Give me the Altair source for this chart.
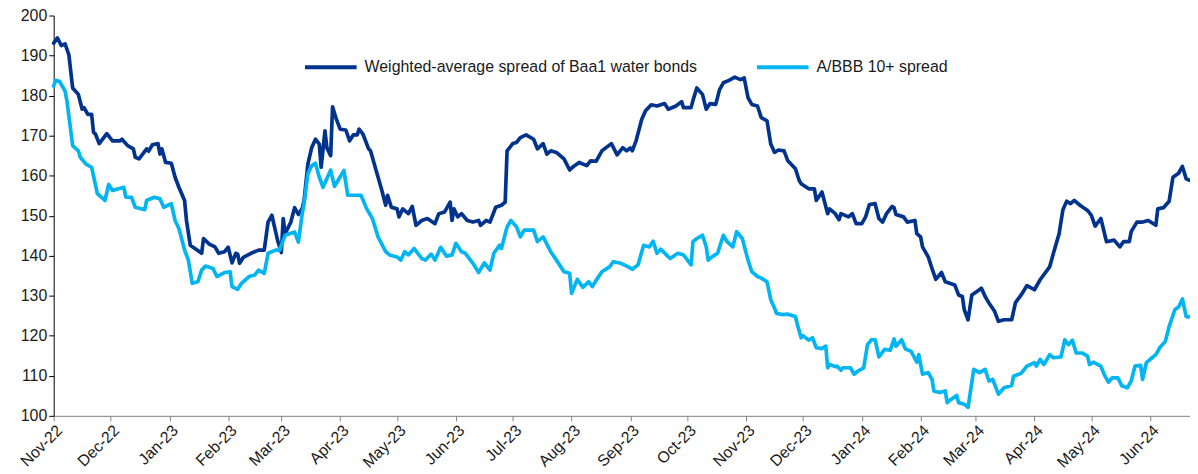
import altair as alt
import pandas as pd

SERIES_A = "Weighted-average spread of Baa1 water bonds"
SERIES_B = "A/BBB 10+ spread"

dates_a = [
    "2022-11-01", "2022-11-03", "2022-11-05", "2022-11-07", "2022-11-09", "2022-11-11", "2022-11-14",
    "2022-11-16", "2022-11-17", "2022-11-19", "2022-11-21", "2022-11-22", "2022-11-23", "2022-11-25",
    "2022-11-29", "2022-12-02", "2022-12-06", "2022-12-07", "2022-12-10", "2022-12-13", "2022-12-14",
    "2022-12-16", "2022-12-20", "2022-12-21", "2022-12-23", "2022-12-26", "2022-12-27", "2022-12-28",
    "2022-12-30", "2023-01-02", "2023-01-04", "2023-01-06", "2023-01-09", "2023-01-10", "2023-01-12",
    "2023-01-15", "2023-01-18", "2023-01-19", "2023-01-22", "2023-01-25", "2023-01-27", "2023-01-30",
    "2023-02-01", "2023-02-03", "2023-02-05", "2023-02-06", "2023-02-07", "2023-02-09", "2023-02-13",
    "2023-02-17", "2023-02-20", "2023-02-22", "2023-02-24", "2023-02-27", "2023-03-01", "2023-03-02",
    "2023-03-03", "2023-03-06", "2023-03-08", "2023-03-10", "2023-03-12", "2023-03-13", "2023-03-15",
    "2023-03-17", "2023-03-19", "2023-03-21", "2023-03-22", "2023-03-24", "2023-03-25", "2023-03-27",
    "2023-03-28", "2023-03-30", "2023-04-01", "2023-04-04", "2023-04-06", "2023-04-08", "2023-04-10",
    "2023-04-11", "2023-04-13", "2023-04-16", "2023-04-17", "2023-04-21", "2023-04-23", "2023-04-25",
    "2023-04-26", "2023-04-28", "2023-05-01", "2023-05-02", "2023-05-04", "2023-05-07", "2023-05-09",
    "2023-05-11", "2023-05-14", "2023-05-17", "2023-05-21", "2023-05-23", "2023-05-26", "2023-05-29",
    "2023-05-30", "2023-05-31", "2023-06-02", "2023-06-04", "2023-06-07", "2023-06-10", "2023-06-13",
    "2023-06-14", "2023-06-17", "2023-06-19", "2023-06-22", "2023-06-25", "2023-06-27", "2023-06-28",
    "2023-07-01", "2023-07-03", "2023-07-05", "2023-07-08", "2023-07-12", "2023-07-14", "2023-07-17",
    "2023-07-19", "2023-07-21", "2023-07-24", "2023-07-28", "2023-07-31", "2023-08-02", "2023-08-05",
    "2023-08-09", "2023-08-11", "2023-08-14", "2023-08-17", "2023-08-22", "2023-08-25", "2023-08-28",
    "2023-08-30", "2023-09-01", "2023-09-02", "2023-09-04", "2023-09-07", "2023-09-09", "2023-09-12",
    "2023-09-15", "2023-09-19", "2023-09-21", "2023-09-25", "2023-09-28", "2023-09-29", "2023-10-03",
    "2023-10-04", "2023-10-06", "2023-10-09", "2023-10-11", "2023-10-13", "2023-10-16", "2023-10-18",
    "2023-10-20", "2023-10-23", "2023-10-26", "2023-10-29", "2023-10-31", "2023-11-02", "2023-11-04",
    "2023-11-07", "2023-11-09", "2023-11-12", "2023-11-14", "2023-11-16", "2023-11-18", "2023-11-21",
    "2023-11-23", "2023-11-27", "2023-11-29", "2023-11-30", "2023-12-04", "2023-12-07", "2023-12-08",
    "2023-12-11", "2023-12-14", "2023-12-15", "2023-12-18", "2023-12-20", "2023-12-21", "2023-12-25",
    "2023-12-27", "2023-12-29", "2024-01-01", "2024-01-03", "2024-01-05", "2024-01-08", "2024-01-10",
    "2024-01-12", "2024-01-14", "2024-01-17", "2024-01-18", "2024-01-19", "2024-01-23", "2024-01-25",
    "2024-01-29", "2024-01-30", "2024-02-01", "2024-02-02", "2024-02-05", "2024-02-07", "2024-02-09",
    "2024-02-12", "2024-02-14", "2024-02-19", "2024-02-21", "2024-02-23", "2024-02-24", "2024-02-26",
    "2024-02-28", "2024-03-03", "2024-03-04", "2024-03-06", "2024-03-08", "2024-03-11", "2024-03-13",
    "2024-03-16", "2024-03-20", "2024-03-22", "2024-03-25", "2024-03-28", "2024-04-01", "2024-04-04",
    "2024-04-09", "2024-04-11", "2024-04-14", "2024-04-16", "2024-04-18", "2024-04-20", "2024-04-22",
    "2024-04-25", "2024-04-29", "2024-05-01", "2024-05-03", "2024-05-06", "2024-05-09", "2024-05-13",
    "2024-05-16", "2024-05-18", "2024-05-21", "2024-05-22", "2024-05-25", "2024-05-28", "2024-05-31",
    "2024-06-04", "2024-06-05", "2024-06-08", "2024-06-11", "2024-06-13", "2024-06-16", "2024-06-18",
    "2024-06-20", "2024-06-22",
]
values_a = [
    193.1, 194.4, 192.5, 192.9, 190.2, 181.9, 180.3,
    176.6, 177.0, 175.3, 175.3, 170.8, 170.4, 168.0,
    170.5, 168.7, 168.7, 169.1, 167.5, 166.7, 164.6,
    164.2, 166.7, 166.1, 167.7, 168.0, 165.4, 166.7,
    163.3, 163.1, 159.6, 157.1, 153.8, 148.8, 142.6,
    141.6, 140.6, 144.3, 142.9, 142.2, 140.6, 141.0,
    142.1, 138.2, 140.6, 140.4, 138.1, 139.6, 140.6,
    141.4, 141.4, 148.4, 150.1, 143.9, 140.8, 149.3,
    145.5, 148.4, 152.0, 150.3, 151.8, 153.8, 162.9,
    167.0, 169.1, 167.9, 162.1, 171.2, 167.0, 165.0,
    177.2, 174.1, 171.6, 171.4, 168.7, 170.2, 170.2,
    171.6, 170.4, 166.7, 166.2, 159.6, 156.3, 152.6,
    155.1, 152.1, 151.7, 149.7, 151.7, 150.5, 152.3,
    147.6, 148.8, 149.3, 148.0, 150.5, 150.9, 153.4,
    148.8, 151.7, 149.7, 150.5, 148.8, 148.4, 148.8,
    147.6, 148.8, 148.4, 152.1, 152.6, 153.4, 166.2,
    168.0, 168.3, 169.5, 170.2, 169.1, 166.7, 168.0,
    165.4, 166.2, 165.8, 164.2, 161.4, 162.3, 163.3,
    162.5, 163.7, 163.6, 166.2, 168.0, 165.2, 167.0,
    166.2, 166.9, 166.2, 168.7, 174.1, 176.2, 177.7,
    177.4, 178.0, 176.6, 177.4, 178.5, 177.0, 177.0,
    178.8, 181.9, 180.3, 176.6, 178.0, 177.8, 181.5,
    183.2, 183.8, 184.6, 184.0, 184.4, 179.5, 177.8,
    177.4, 174.5, 173.7, 167.9, 165.8, 166.4, 166.2,
    163.7, 161.7, 158.8, 158.0, 156.7, 156.7, 153.8,
    155.9, 150.5, 151.7, 150.5, 149.0, 150.5, 149.7,
    150.5, 148.0, 148.0, 149.7, 152.8, 153.0, 149.3,
    148.4, 150.5, 152.3, 152.0, 150.3, 149.7, 148.4,
    148.8, 145.5, 144.7, 142.2, 139.7, 136.8, 134.1,
    135.8, 133.5, 132.7, 130.2, 129.8, 126.5, 124.0,
    130.2, 131.5, 131.9, 129.8, 128.2, 126.1, 123.6,
    124.0, 124.0, 128.3, 130.2, 132.5, 131.5, 134.0,
    137.2, 140.6, 145.5, 151.5, 153.6, 153.0, 153.8,
    152.6, 151.3, 150.1, 147.4, 149.3, 143.5, 143.9,
    142.2, 143.5, 143.5, 146.0, 148.4, 148.4, 148.8,
    147.6, 151.7, 152.0, 153.6, 159.6, 160.6, 162.3,
    159.2, 158.8,
]

dates_b = [
    "2022-11-01", "2022-11-02", "2022-11-04", "2022-11-07", "2022-11-08", "2022-11-11", "2022-11-14",
    "2022-11-15", "2022-11-18", "2022-11-21", "2022-11-24", "2022-11-28", "2022-11-30", "2022-12-02",
    "2022-12-08", "2022-12-09", "2022-12-12", "2022-12-14", "2022-12-19", "2022-12-20", "2022-12-24",
    "2022-12-27", "2022-12-29", "2023-01-02", "2023-01-04", "2023-01-06", "2023-01-09", "2023-01-11",
    "2023-01-13", "2023-01-16", "2023-01-18", "2023-01-20", "2023-01-24", "2023-01-26", "2023-01-30",
    "2023-02-02", "2023-02-03", "2023-02-06", "2023-02-08", "2023-02-12", "2023-02-15", "2023-02-17",
    "2023-02-20", "2023-02-22", "2023-02-26", "2023-02-28", "2023-03-03", "2023-03-08", "2023-03-10",
    "2023-03-12", "2023-03-13", "2023-03-15", "2023-03-17", "2023-03-19", "2023-03-21", "2023-03-23",
    "2023-03-27", "2023-03-29", "2023-04-03", "2023-04-05", "2023-04-08", "2023-04-12", "2023-04-15",
    "2023-04-18", "2023-04-21", "2023-04-25", "2023-04-27", "2023-05-01", "2023-05-03", "2023-05-05",
    "2023-05-07", "2023-05-10", "2023-05-14", "2023-05-16", "2023-05-19", "2023-05-21", "2023-05-24",
    "2023-05-27", "2023-05-30", "2023-06-01", "2023-06-04", "2023-06-06", "2023-06-10", "2023-06-13",
    "2023-06-16", "2023-06-19", "2023-06-21", "2023-06-24", "2023-06-25", "2023-06-28", "2023-06-30",
    "2023-07-03", "2023-07-05", "2023-07-07", "2023-07-12", "2023-07-14", "2023-07-17", "2023-07-21",
    "2023-07-24", "2023-07-28", "2023-07-31", "2023-08-01", "2023-08-04", "2023-08-07", "2023-08-10",
    "2023-08-12", "2023-08-14", "2023-08-17", "2023-08-21", "2023-08-23", "2023-08-27", "2023-08-31",
    "2023-09-02", "2023-09-05", "2023-09-07", "2023-09-08", "2023-09-11", "2023-09-13", "2023-09-15",
    "2023-09-17", "2023-09-20", "2023-09-22", "2023-09-26", "2023-09-29", "2023-10-03", "2023-10-04",
    "2023-10-06", "2023-10-09", "2023-10-11", "2023-10-12", "2023-10-14", "2023-10-17", "2023-10-20",
    "2023-10-22", "2023-10-25", "2023-10-27", "2023-10-30", "2023-11-02", "2023-11-04", "2023-11-07",
    "2023-11-09", "2023-11-12", "2023-11-14", "2023-11-16", "2023-11-17", "2023-11-20", "2023-11-23",
    "2023-11-27", "2023-11-28", "2023-11-30", "2023-12-01", "2023-12-04", "2023-12-06", "2023-12-08",
    "2023-12-11", "2023-12-13", "2023-12-14", "2023-12-15", "2023-12-18", "2023-12-19", "2023-12-21",
    "2023-12-22", "2023-12-26", "2023-12-28", "2023-12-30", "2024-01-02", "2024-01-04", "2024-01-06",
    "2024-01-08", "2024-01-10", "2024-01-13", "2024-01-16", "2024-01-18", "2024-01-19", "2024-01-22",
    "2024-01-24", "2024-01-27", "2024-01-30", "2024-01-31", "2024-02-02", "2024-02-05", "2024-02-07",
    "2024-02-08", "2024-02-11", "2024-02-14", "2024-02-15", "2024-02-17", "2024-02-20", "2024-02-21",
    "2024-02-24", "2024-02-26", "2024-02-29", "2024-03-03", "2024-03-06", "2024-03-08", "2024-03-10",
    "2024-03-13", "2024-03-16", "2024-03-20", "2024-03-21", "2024-03-25", "2024-03-28", "2024-04-01",
    "2024-04-02", "2024-04-04", "2024-04-06", "2024-04-09", "2024-04-11", "2024-04-15", "2024-04-17",
    "2024-04-19", "2024-04-21", "2024-04-23", "2024-04-26", "2024-04-29", "2024-04-30", "2024-05-02",
    "2024-05-06", "2024-05-08", "2024-05-10", "2024-05-12", "2024-05-15", "2024-05-17", "2024-05-20",
    "2024-05-22", "2024-05-24", "2024-05-27", "2024-05-28", "2024-05-30", "2024-06-02", "2024-06-04",
    "2024-06-06", "2024-06-09", "2024-06-11", "2024-06-14", "2024-06-16", "2024-06-18", "2024-06-20",
    "2024-06-22",
]
values_b = [
    182.4, 183.8, 183.6, 181.1, 178.6, 167.5, 166.2,
    164.6, 162.9, 162.1, 155.5, 153.8, 157.8, 156.3,
    157.1, 154.6, 154.6, 152.1, 151.5, 153.8, 154.6,
    154.2, 152.1, 153.0, 148.8, 146.8, 141.4, 138.9,
    133.1, 133.5, 136.4, 137.4, 136.8, 134.8, 135.8,
    136.0, 132.3, 131.6, 133.1, 134.8, 135.2, 136.4,
    135.6, 140.6, 141.4, 141.4, 145.1, 145.9, 143.4,
    150.5, 153.0, 160.5, 162.5, 163.1, 159.6, 157.1,
    161.4, 157.3, 161.3, 155.1, 155.1, 155.1, 151.7,
    149.3, 144.7, 141.0, 140.2, 139.7, 138.9, 141.0,
    140.2, 141.8, 139.3, 138.9, 140.4, 138.9, 142.1,
    139.9, 140.2, 143.1, 141.0, 140.6, 138.1, 135.8,
    138.2, 136.4, 140.6, 142.6, 141.8, 147.2, 148.8,
    147.2, 144.7, 146.4, 146.4, 143.5, 144.7, 141.0,
    138.9, 136.0, 135.6, 130.6, 134.1, 132.1, 133.5,
    132.3, 133.9, 136.0, 137.2, 138.5, 138.1, 137.2,
    136.6, 137.7, 141.0, 142.6, 142.2, 143.6, 140.6,
    141.6, 140.2, 139.3, 140.6, 140.2, 137.7, 143.5,
    144.3, 145.1, 142.2, 138.9, 139.7, 140.6, 145.1,
    143.5, 142.2, 146.0, 144.3, 138.9, 136.0, 134.8,
    134.4, 133.5, 129.0, 126.9, 125.6, 125.3, 125.4,
    124.8, 122.8, 119.5, 120.0, 118.9, 119.5, 117.0,
    116.8, 117.4, 112.0, 112.8, 112.3, 112.4, 111.4,
    112.0, 112.0, 110.4, 111.2, 112.0, 117.8, 119.0,
    119.0, 114.7, 116.6, 116.4, 119.2, 117.4, 119.0,
    116.7, 116.1, 113.4, 115.3, 110.4, 110.8, 109.1,
    106.2, 105.8, 106.2, 103.3, 104.1, 105.1, 103.3,
    102.9, 102.1, 111.6, 110.8, 111.6, 108.7, 109.1,
    105.4, 107.0, 107.6, 109.9, 110.6, 112.4, 113.3,
    112.4, 114.1, 112.8, 115.3, 114.5, 114.7, 119.0,
    117.8, 118.9, 115.7, 115.7, 114.9, 112.8, 113.4,
    112.4, 110.1, 108.4, 109.5, 109.5, 107.5, 107.0,
    108.7, 112.4, 112.6, 109.1, 113.3, 114.5, 115.3,
    117.0, 118.6, 122.3, 126.5, 127.2, 129.2, 124.8,
    124.7,
]

month_ticks = [
    "2022-11-01", "2022-12-01", "2023-01-01", "2023-02-01", "2023-03-01", "2023-04-01",
    "2023-05-01", "2023-06-01", "2023-07-01", "2023-08-01", "2023-09-01", "2023-10-01",
    "2023-11-01", "2023-12-01", "2024-01-01", "2024-02-01", "2024-03-01", "2024-04-01",
    "2024-05-01", "2024-06-01",
]
y_ticks = [100, 110, 120, 130, 140, 150, 160, 170, 180, 190, 200]
x_domain = ["2022-11-01", "2024-06-22"]

df = pd.concat([
    pd.DataFrame({"date": dates_a, "value": values_a, "series": SERIES_A}),
    pd.DataFrame({"date": dates_b, "value": values_b, "series": SERIES_B}),
], ignore_index=True)

FONT = "Liberation Sans"
TEXT = "#1a1a1a"

chart = alt.Chart(df).mark_line(strokeWidth=3.7, strokeJoin="round", strokeCap="round").encode(
    x=alt.X(
        "date:T",
        scale=alt.Scale(domain=x_domain, nice=False),
        axis=alt.Axis(
            title=None,
            values=month_ticks,
            format="%b-%y",
            labelAngle=-45,
            labelAlign="right",
            labelBaseline="top",
            labelFontSize=16,
            labelColor=TEXT,
            labelFont=FONT,
            labelPadding=1,
            tickSize=5,
            tickColor="#808080",
            domainColor="#808080",
            grid=False,
            labelOverlap=False,
        ),
    ),
    y=alt.Y(
        "value:Q",
        scale=alt.Scale(domain=[100, 200], nice=False, zero=False),
        axis=alt.Axis(
            title=None,
            values=y_ticks,
            labelFontSize=16,
            labelColor=TEXT,
            labelFont=FONT,
            labelPadding=2,
            tickSize=5,
            tickColor="#000000",
            domainColor="#000000",
            grid=False,
        ),
    ),
    color=alt.Color(
        "series:N",
        scale=alt.Scale(domain=[SERIES_A, SERIES_B], range=["#00338D", "#00B5F1"]),
        sort=[SERIES_A, SERIES_B],
        legend=alt.Legend(
            title=None,
            orient="none",
            legendX=251,
            legendY=24,
            direction="horizontal",
            symbolType="stroke",
            symbolSize=2704,
            symbolStrokeWidth=4,
            labelFontSize=16,
            labelFont=FONT,
            labelColor=TEXT,
            labelOffset=6,
            columnPadding=51,
            labelLimit=500,
        ),
    ),
    order="series:N",
).properties(
    width=1144,
    height=403,
    autosize=alt.AutoSizeParams(type="none"),
    padding={"left": 46, "top": 6, "right": 0, "bottom": 58},
).configure_view(stroke=None)

chart.save("out.html", embed_options={"renderer": "svg", "actions": False})
